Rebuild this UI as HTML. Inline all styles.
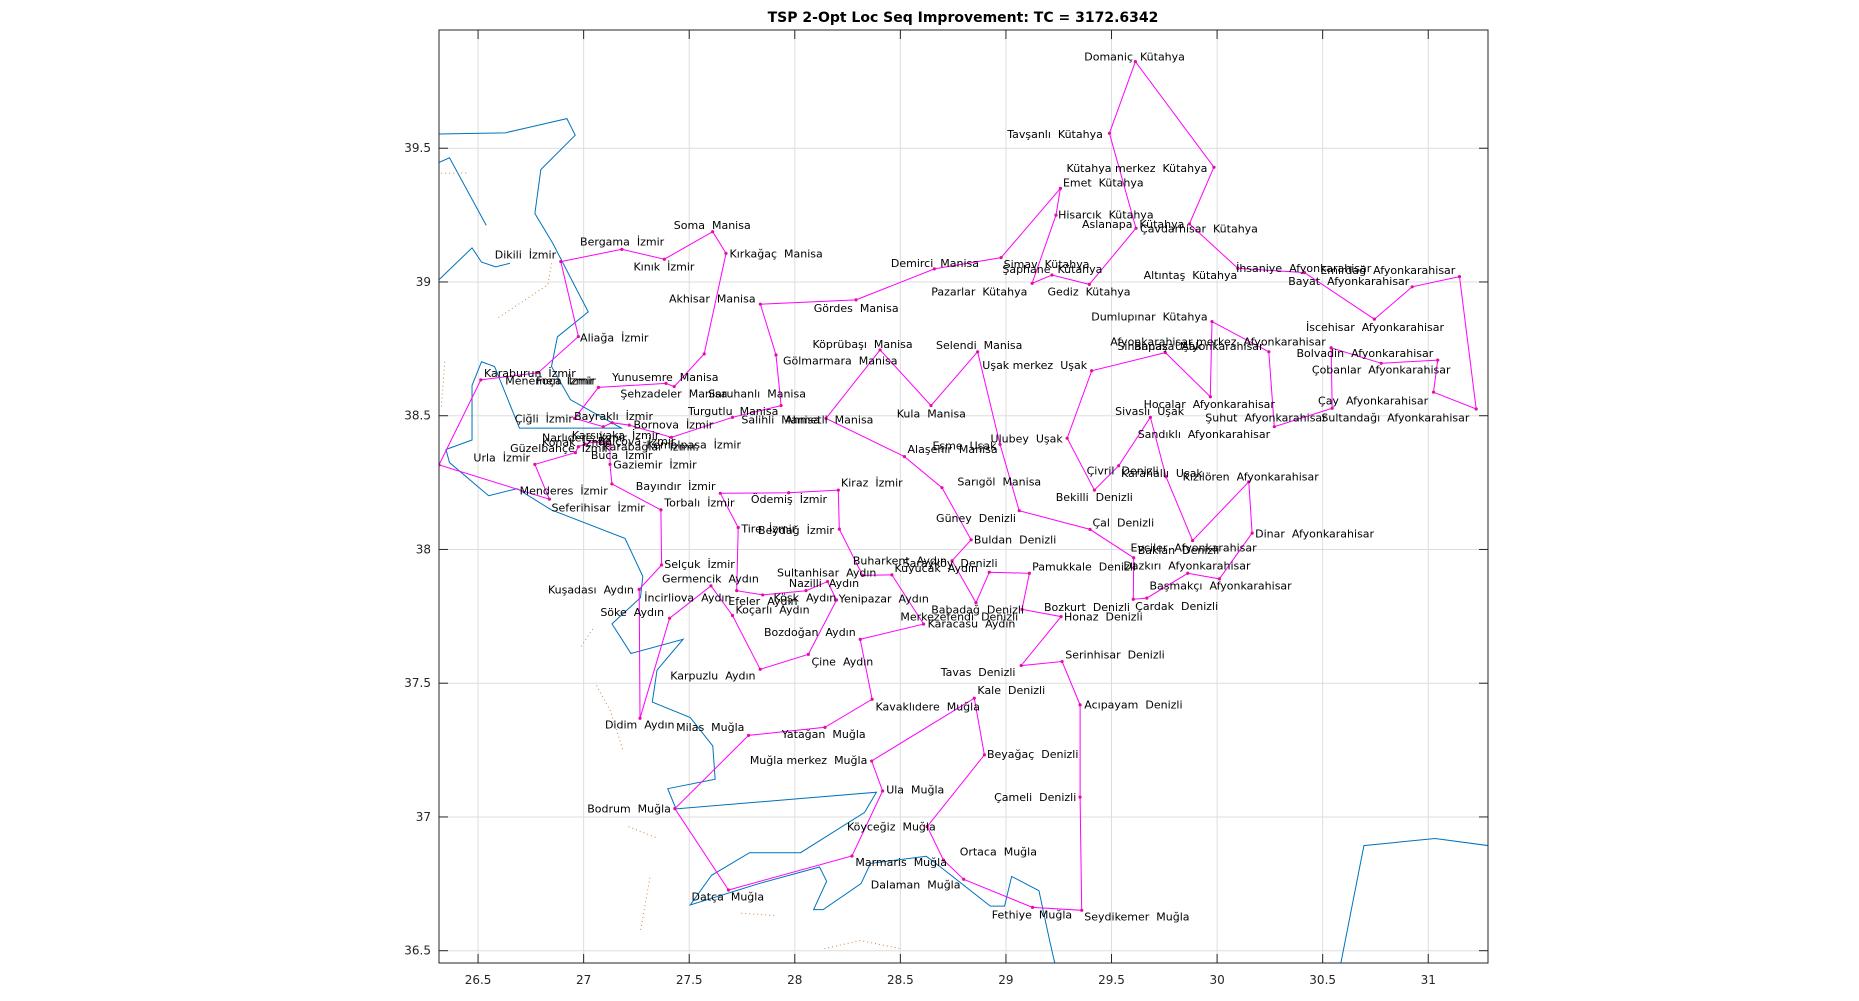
<!DOCTYPE html>
<html><head><meta charset="utf-8"><title>TSP 2-Opt Loc Seq Improvement</title>
<style>
html,body{margin:0;padding:0;background:#fff;}
svg{display:block;font-family:"DejaVu Sans","Liberation Sans",sans-serif;}
.lbl{font-size:11px;fill:#000;white-space:pre;}
.tick{font-size:12px;fill:#262626;}
</style></head>
<body>
<svg id="chart" xmlns="http://www.w3.org/2000/svg" width="1859" height="1001" viewBox="0 0 1859 1001">
<defs><clipPath id="plotclip"><rect x="439" y="30" width="1049" height="933"/></clipPath></defs>
<rect x="0" y="0" width="1859" height="1001" fill="#fff"/>
<rect x="439" y="30" width="1049" height="933" fill="#fff"/>
<g id="grid"></g>
<g clip-path="url(#plotclip)">
<g id="coast" transform="scale(1.186)"></g>
<g id="route"></g>
</g>
<g id="labels"></g>
<rect x="439" y="30" width="1049" height="933" fill="none" stroke="#262626" stroke-width="1"/>
<g id="ticks"></g>
<text x="963" y="22" text-anchor="middle" font-size="14" font-weight="bold" fill="#000">TSP 2-Opt Loc Seq Improvement: TC = 3172.6342</text>
</svg>
<script>
const tourLon = [29.613,29.985,29.869,30.098,30.414,30.745,30.924,31.148,31.227,31.025,31.045,30.777,30.540,30.545,30.271,30.245,29.976,29.968,29.755,29.406,29.290,29.419,29.534,29.684,29.758,29.884,30.150,30.166,30.011,29.861,29.667,29.603,29.605,29.398,29.063,28.972,28.866,28.645,28.404,28.148,28.519,28.697,28.835,28.745,28.858,28.921,29.111,29.076,29.261,29.072,29.266,29.351,29.351,29.359,29.126,28.800,28.704,28.627,28.898,28.850,28.364,28.416,28.271,27.686,27.432,27.781,28.143,28.366,28.310,28.610,28.460,28.321,28.211,28.206,27.971,27.647,27.732,27.725,27.848,28.053,28.155,28.198,28.064,27.836,27.705,27.603,27.407,27.267,27.263,27.369,27.366,27.134,27.125,27.125,27.101,27.054,27.006,26.975,26.961,26.769,26.838,26.315,26.513,26.785,26.975,26.892,27.181,27.382,27.611,27.674,27.571,27.429,27.390,27.070,26.957,27.093,27.135,27.216,27.416,27.705,27.935,27.911,27.837,28.290,28.661,28.977,29.258,29.237,29.124,29.218,29.395,29.616,29.490];
const tourLat = [39.824,39.429,39.217,39.051,39.035,38.861,38.982,39.020,38.525,38.588,38.708,38.696,38.754,38.528,38.459,38.739,38.852,38.571,38.736,38.668,38.416,38.222,38.313,38.494,38.272,38.033,38.253,38.061,37.890,37.911,37.818,37.814,37.969,38.075,38.145,38.393,38.739,38.538,38.746,38.490,38.347,38.231,38.036,37.958,37.801,37.915,37.911,37.776,37.749,37.566,37.581,37.419,37.074,36.651,36.662,36.767,36.839,36.964,37.232,37.444,37.209,37.097,36.854,36.727,37.031,37.305,37.335,37.440,37.664,37.721,37.905,37.903,38.076,38.222,38.212,38.210,38.082,37.846,37.830,37.846,37.880,37.811,37.608,37.552,37.753,37.864,37.743,37.369,37.851,37.942,38.148,38.245,38.318,38.391,38.397,38.403,38.394,38.384,38.362,38.318,38.188,38.316,38.634,38.661,38.796,39.076,39.122,39.085,39.188,39.107,38.731,38.609,38.621,38.606,38.490,38.459,38.474,38.465,38.419,38.494,38.538,38.727,38.917,38.933,39.049,39.091,39.350,39.250,38.995,39.026,38.991,39.201,39.556];
const labelText = ["Domaniç  Kütahya","Tavşanlı  Kütahya","Kütahya merkez  Kütahya","Emet  Kütahya","Hisarcık  Kütahya","Aslanapa  Kütahya","Çavdarhisar  Kütahya","Simav  Kütahya","Şaphane  Kütahya","Pazarlar  Kütahya","Gediz  Kütahya","Altıntaş  Kütahya","İhsaniye  Afyonkarahisar","Emirdağ  Afyonkarahisar","Bayat  Afyonkarahisar","Dumlupınar  Kütahya","İscehisar  Afyonkarahisar","Afyonkarahisar merkez  Afyonkarahisar","Sinanpaşa  Afyonkarahisar","Banaz  Uşak","Bolvadin  Afyonkarahisar","Çobanlar  Afyonkarahisar","Uşak merkez  Uşak","Hocalar  Afyonkarahisar","Sivaslı  Uşak","Şuhut  Afyonkarahisar","Çay  Afyonkarahisar","Sultandağı  Afyonkarahisar","Sandıklı  Afyonkarahisar","Ulubey  Uşak","Eşme  Uşak","Alaşehir  Manisa","Çivril  Denizli","Karahallı  Uşak","Kızılören  Afyonkarahisar","Sarıgöl  Manisa","Bekilli  Denizli","Çal  Denizli","Güney  Denizli","Buldan  Denizli","Dinar  Afyonkarahisar","Evciler  Afyonkarahisar","Baklan  Denizli","Dazkırı  Afyonkarahisar","Pamukkale  Denizli","Başmakçı  Afyonkarahisar","Çardak  Denizli","Bozkurt  Denizli","Honaz  Denizli","Babadağ  Denizli","Merkezefendi  Denizli","Karacasu  Aydın","Serinhisar  Denizli","Tavas  Denizli","Kale  Denizli","Acıpayam  Denizli","Beyağaç  Denizli","Çameli  Denizli","Ortaca  Muğla","Fethiye  Muğla","Seydikemer  Muğla","Dalaman  Muğla","Marmaris  Muğla","Köyceğiz  Muğla","Ula  Muğla","Muğla merkez  Muğla","Yatağan  Muğla","Milas  Muğla","Didim  Aydın","Kavaklıdere  Muğla","Bodrum  Muğla","Datça  Muğla","Karpuzlu  Aydın","Çine  Aydın","Bozdoğan  Aydın","Kuşadası  Aydın","Söke  Aydın","İncirliova  Aydın","Germencik  Aydın","Selçuk  İzmir","Efeler  Aydın","Koçarlı  Aydın","Köşk  Aydın","Sultanhisar  Aydın","Nazilli  Aydın","Yenipazar  Aydın","Buharkent  Aydın","Kuyucak  Aydın","Sarayköy  Denizli","Tire  İzmir","Beydağ  İzmir","Torbalı  İzmir","Ödemiş  İzmir","Kiraz  İzmir","Bayındır  İzmir","Menderes  İzmir","Seferihisar  İzmir","Gaziemir  İzmir","Urla  İzmir","Güzelbahçe  İzmir","Buca  İzmir","Narlıdere  İzmir","Konak  İzmir","Balçova  İzmir","Karabağlar  İzmir","Kemalpaşa  İzmir","Karşıyaka  İzmir","Bornova  İzmir","Bayraklı  İzmir","Çiğli  İzmir","Turgutlu  Manisa","Salihli  Manisa","Ahmetli  Manisa","Şehzadeler  Manisa","Yunusemre  Manisa","Karaburun  İzmir","Menemen  İzmir","Foça  İzmir","Saruhanlı  Manisa","Gölmarmara  Manisa","Köprübaşı  Manisa","Selendi  Manisa","Kula  Manisa","Aliağa  İzmir","Akhisar  Manisa","Gördes  Manisa","Demirci  Manisa","Kınık  İzmir","Kırkağaç  Manisa","Dikili  İzmir","Bergama  İzmir","Soma  Manisa"];
const labelLon = [29.371,29.006,29.287,29.270,29.247,29.360,29.635,28.989,28.983,28.646,29.197,29.652,30.090,30.489,30.337,29.404,30.421,29.494,29.528,29.607,30.376,30.449,28.888,29.652,29.517,29.944,30.478,30.494,29.624,28.927,28.652,28.534,29.382,29.545,29.837,28.770,29.236,29.410,28.669,28.848,30.180,29.590,29.624,29.556,29.124,29.680,29.612,29.180,29.275,28.646,28.500,28.629,29.281,28.691,28.865,29.371,28.910,28.944,28.781,28.933,29.371,28.360,28.287,28.247,28.433,27.787,27.938,27.438,27.101,28.382,27.017,27.511,27.410,28.079,27.854,26.831,27.079,27.287,27.371,27.382,27.685,27.719,27.899,27.916,27.972,28.208,28.275,28.472,28.511,27.747,27.826,27.382,27.792,28.219,27.247,26.697,26.848,27.140,26.478,26.652,27.034,26.803,26.803,27.067,27.090,27.298,26.944,27.236,26.955,26.674,27.494,27.747,27.955,27.174,27.135,26.528,26.629,26.775,27.590,27.944,28.084,28.669,28.483,26.983,27.404,28.090,28.455,27.236,27.691,26.579,26.983,27.427];
const labelLat = [39.843,39.554,39.426,39.372,39.253,39.217,39.200,39.067,39.049,38.965,38.965,39.027,39.053,39.044,39.004,38.871,38.831,38.778,38.761,38.761,38.734,38.672,38.690,38.543,38.517,38.494,38.557,38.494,38.432,38.415,38.388,38.375,38.295,38.286,38.273,38.255,38.197,38.100,38.118,38.038,38.060,38.007,37.998,37.940,37.936,37.865,37.789,37.785,37.749,37.776,37.749,37.723,37.608,37.541,37.475,37.421,37.235,37.075,36.871,36.636,36.627,36.747,36.831,36.965,37.102,37.213,37.310,37.337,37.346,37.412,37.031,36.703,37.528,37.581,37.692,37.851,37.767,37.820,37.891,37.945,37.807,37.776,37.820,37.914,37.874,37.816,37.958,37.931,37.949,38.078,38.073,38.175,38.188,38.251,38.237,38.220,38.157,38.317,38.344,38.379,38.353,38.419,38.401,38.406,38.384,38.392,38.428,38.468,38.499,38.490,38.517,38.486,38.486,38.583,38.645,38.659,38.632,38.632,38.583,38.707,38.769,38.765,38.508,38.792,38.938,38.902,39.071,39.058,39.106,39.102,39.151,39.213];
const xTicks = [26.5,27,27.5,28,28.5,29,29.5,30,30.5,31];
const yTicks = [36.5,37,37.5,38,38.5,39,39.5];
const xTickLabels = ["26.5","27","27.5","28","28.5","29","29.5","30","30.5","31"];
const yTickLabels = ["36.5","37","37.5","38","38.5","39","39.5"];
const coastLines = [
"370,113 426,112 478,100 485,114 456,143 451,180 466,205 496,263 470,284 465,309 481,337 497,346 524,361 438,361 417,309 406,305 398,325 398,371 376,379 379,390 412,418 436,412 465,430 527,454 542,486 540,504 516,526 532,551 576,539 554,565 550,592 582,605 601,629 603,657 563,665 570,682 739,668 729,685 675,719 632,719 600,738 582,763 640,745 691,731 697,743 686,767 694,767 726,745 734,728 781,722 793,731 835,764 847,764 853,739 876,751 885,793 890,815",
"370,137 379,133 410,190",
"370,236 398,209 406,221 418,225 430,222",
"1130,815 1150,713 1210,707 1255,713"];
const dotLines = ["372,146 395,146","465,222 462,240 420,268","375,305 372,345","490,545 500,530","503,578 515,600 525,632","530,697 555,707","548,740 540,785","625,770 655,772","695,800 725,793 760,800"];

const X0=439,X1=1488,Y0=30,Y1=963,XMIN=26.315,XMAX=31.283,YMIN=36.454,YMAX=39.942;
function xs(v){return X0+(v-XMIN)/(XMAX-XMIN)*(X1-X0);}
function ys(v){return Y1-(v-YMIN)/(YMAX-YMIN)*(Y1-Y0);}
const NS="http://www.w3.org/2000/svg";
function mk(tag,attrs,parent){const e=document.createElementNS(NS,tag);for(const k in attrs)e.setAttribute(k,attrs[k]);parent.appendChild(e);return e;}

const grid=document.getElementById('grid'),ticks=document.getElementById('ticks');
xTicks.forEach((t,i)=>{const x=xs(t);
 const g=mk('line',{x1:x,x2:x,y1:Y0,y2:Y1,stroke:'#dedede','stroke-width':1},grid);
 
 
 const a=mk('line',{x1:x,x2:x,y1:Y1,y2:Y1-9,stroke:'#262626'},ticks);
 
 
 const b=mk('line',{x1:x,x2:x,y1:Y0,y2:Y0+9,stroke:'#262626'},ticks);
 
 
 const tx=mk('text',{x:x,y:Y1+21,'text-anchor':'middle',class:'tick'},ticks);tx.textContent=xTickLabels[i];
 
 
});
yTicks.forEach((t,i)=>{const y=ys(t);
 const g=mk('line',{x1:X0,x2:X1,y1:y,y2:y,stroke:'#dedede','stroke-width':1},grid);
 
 
 const a=mk('line',{x1:X0,x2:X0+9,y1:y,y2:y,stroke:'#262626'},ticks);
 
 
 const b=mk('line',{x1:X1,x2:X1-9,y1:y,y2:y,stroke:'#262626'},ticks);
 
 
 const tx=mk('text',{x:X0-8,y:y+4,'text-anchor':'end',class:'tick'},ticks);tx.textContent=yTickLabels[i];
 
 
});

const coast=document.getElementById('coast');
coastLines.forEach(p=>{const l=mk('polyline',{points:p,fill:'none',stroke:'#0072BD','stroke-width':1,'vector-effect':'non-scaling-stroke'},coast);
 
 });
dotLines.forEach(p=>{const l=mk('polyline',{points:p,fill:'none',stroke:'#C8864A','stroke-width':1,'stroke-dasharray':'1 3','vector-effect':'non-scaling-stroke'},coast);
 
 });

const route=document.getElementById('route');
let pts=tourLon.map((v,i)=>xs(v).toFixed(1)+','+ys(tourLat[i]).toFixed(1));
pts.push(pts[0]);
const pl=mk('polyline',{points:pts.join(' '),fill:'none',stroke:'#FF00FF','stroke-width':1},route);


tourLon.forEach((v,i)=>{const c=mk('circle',{cx:xs(v),cy:ys(tourLat[i]),r:1.6,fill:'#E0109A'},route);
 
 });

const labels=document.getElementById('labels');
labelText.forEach((t,i)=>{const tx=mk('text',{x:xs(labelLon[i]),y:ys(labelLat[i])+4,class:'lbl'},labels);
 tx.textContent=t;
 
 });
</script>
</body></html>
